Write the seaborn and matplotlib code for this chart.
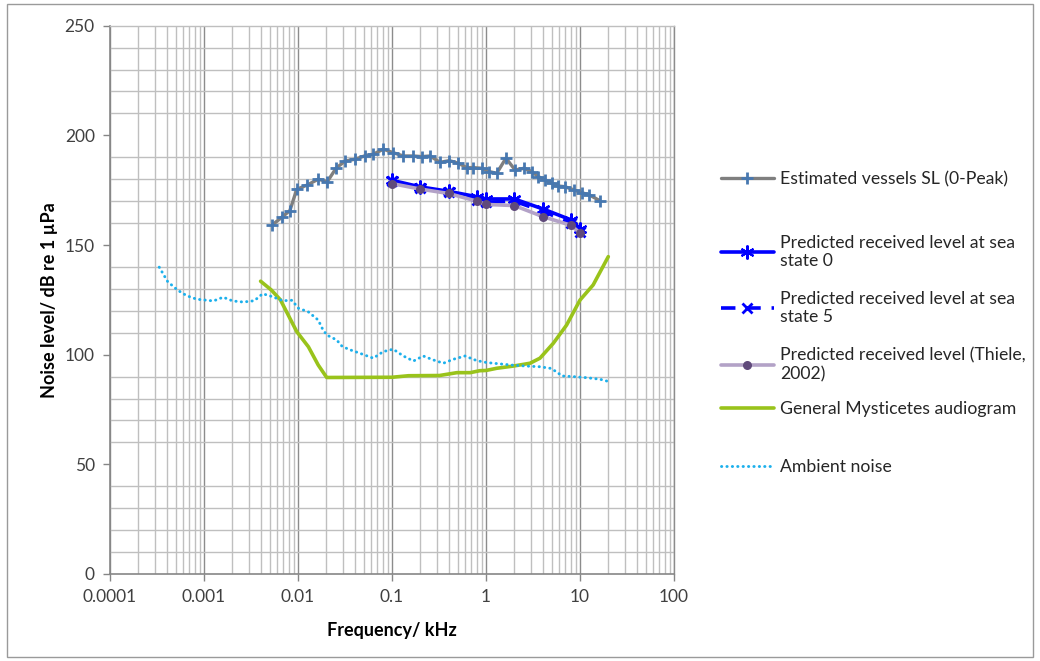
import numpy as np
import pandas as pd
import matplotlib
matplotlib.use("Agg")
import matplotlib.pyplot as plt
from matplotlib.ticker import LogLocator, FixedLocator, NullFormatter, FuncFormatter
from matplotlib.patches import Rectangle
import seaborn as sns

# ---------------- data ----------------
# Estimated vessel source level (0-peak), frequency in kHz
vessel_freq = [0.0053, 0.0067, 0.0082, 0.0097, 0.0126, 0.0164, 0.0205, 0.0254, 0.0316,
               0.0404, 0.0516, 0.0632, 0.0809, 0.103, 0.132, 0.169, 0.207, 0.254, 0.324,
               0.407, 0.508, 0.622, 0.733, 0.90, 1.08, 1.30, 1.63, 2.04, 2.54, 3.06, 3.60,
               4.24, 5.00, 5.88, 6.92, 8.63, 10.4, 12.6, 16.3]
vessel_sl = [159.1, 162.6, 165.7, 175.4, 177.4, 180.0, 178.9, 185.0, 188.3,
             189.1, 190.7, 191.4, 193.7, 192.1, 190.6, 190.6, 190.3, 190.6, 187.7,
             188.5, 187.3, 185.3, 185.3, 185.0, 183.5, 182.7, 189.6, 184.2, 185.0, 183.5, 181.2,
             179.7, 178.2, 176.9, 176.6, 175.1, 173.9, 172.8, 170.2]

# Predicted received levels
rl_freq = [0.1, 0.2, 0.4, 0.8, 1.0, 2.0, 4.0, 8.0, 10.0]
rl_sea0 = [179.5, 176.5, 174.5, 172.0, 171.0, 171.0, 166.5, 161.5, 157.5]
rl_sea5 = [179.0, 176.0, 174.0, 170.5, 169.5, 170.0, 165.5, 160.0, 156.0]
rl_thiele = [178.0, 175.5, 173.5, 170.0, 168.5, 168.0, 163.0, 159.0, 155.5]

# General Mysticetes audiogram
aud_freq = [0.004, 0.0052, 0.0065, 0.0097, 0.0129, 0.0164, 0.0202, 0.1, 0.15, 0.32,
            0.49, 0.68, 0.86, 1.0, 1.3, 1.95, 2.94, 3.75, 5.2, 7.2, 10.0, 13.8, 20.0]
aud_level = [133.5, 129.5, 125.0, 110.5, 103.6, 95.3, 89.6, 89.7, 90.4, 90.5,
             91.8, 91.8, 92.7, 92.8, 93.8, 94.8, 96.1, 98.4, 105.2, 113.5, 124.9, 131.8, 144.7]

# Ambient noise
amb_freq = [0.000334, 0.000411, 0.000525, 0.000654, 0.000836, 0.00126, 0.0016, 0.00202,
            0.00262, 0.00343, 0.00421, 0.00538, 0.00688, 0.00863, 0.0101, 0.0129, 0.0164,
            0.0183, 0.0202, 0.0258, 0.0292, 0.0343, 0.0438, 0.0632, 0.0807, 0.103, 0.132,
            0.169, 0.215, 0.275, 0.352, 0.449, 0.598, 0.796, 1.02, 1.41, 1.95, 2.71, 3.75,
            4.80, 5.65, 6.39, 8.49, 11.8, 16.3, 19.2]
amb_level = [139.9, 133.3, 129.4, 126.9, 125.3, 124.5, 126.2, 124.5,
             124.0, 124.6, 127.8, 126.4, 124.6, 124.8, 121.2, 119.5, 115.8,
             111.6, 109.0, 106.7, 104.0, 102.5, 100.9, 98.4, 101.4, 102.5, 99.4,
             97.1, 99.4, 97.6, 96.1, 97.9, 99.4, 97.3, 96.4, 95.8, 95.2, 94.8, 94.5,
             93.8, 92.2, 90.3, 90.0, 89.5, 88.8, 88.0]

labels = ["Estimated vessels SL (0-Peak)",
          "Predicted received level at sea\nstate 0",
          "Predicted received level at sea\nstate 5",
          "Predicted received level (Thiele,\n2002)",
          "General Mysticetes audiogram",
          "Ambient noise"]

x_ticks = [0.0001, 0.001, 0.01, 0.1, 1, 10, 100]
y_ticks = [0, 50, 100, 150, 200, 250]

# ---------------- style ----------------
sns.set_theme(style="white")
plt.rcParams["font.family"] = ["Lato", "DejaVu Sans"]

GRID_MINOR = "#bfbfbf"
GRID_MAJOR = "#8c8c8c"
AXIS = "#868686"
TEXT = "#404040"

fig = plt.figure(figsize=(10.4, 6.61), dpi=100)
ax = fig.add_axes([110 / 1040, 1 - 574 / 661, (674 - 110) / 1040, (574 - 25.7) / 661])

# outer chart frame
fig.patches.append(Rectangle((7 / 1040, 4 / 661), 1026 / 1040, 653 / 661,
                             transform=fig.transFigure, fill=False,
                             edgecolor="#9a9a9a", linewidth=1.0))

ax.set_xscale("log")
ax.set_xlim(0.0001, 100)
ax.set_ylim(0, 250)

# ---------------- series ----------------
df_vessel = pd.DataFrame({"f": vessel_freq, "L": vessel_sl})
df_rl = pd.DataFrame({"f": rl_freq, "s0": rl_sea0, "s5": rl_sea5, "th": rl_thiele})
df_aud = pd.DataFrame({"f": aud_freq, "L": aud_level})
df_amb = pd.DataFrame({"f": amb_freq, "L": amb_level})

asterisk = (6, 2, 0)

sns.lineplot(data=df_vessel, x="f", y="L", ax=ax, estimator=None, sort=False, legend=False,
             color="#7f7f7f", linewidth=2.4, marker="+", markersize=9,
             markeredgewidth=2.0, markeredgecolor="#4778b0", label=labels[0], zorder=3)
sns.lineplot(data=df_rl, x="f", y="s0", ax=ax, estimator=None, sort=False, legend=False,
             color="#0000ff", linewidth=2.6, marker=asterisk, markersize=10,
             markeredgewidth=1.5, markeredgecolor="#0000ff", label=labels[1], zorder=4)
sns.lineplot(data=df_rl, x="f", y="s5", ax=ax, estimator=None, sort=False, legend=False,
             color="#0000ff", linewidth=2.6, linestyle=(0, (4, 3)), marker="x", markersize=7,
             markeredgewidth=2.0, markeredgecolor="#0000ff", label=labels[2], zorder=4)
sns.lineplot(data=df_rl, x="f", y="th", ax=ax, estimator=None, sort=False, legend=False,
             color="#b3a2c7", linewidth=2.6, marker="o", markersize=6.5,
             markeredgewidth=0, markerfacecolor="#604a7b", label=labels[3], zorder=5)
sns.lineplot(data=df_aud, x="f", y="L", ax=ax, estimator=None, sort=False, legend=False,
             color="#99c31b", linewidth=2.6, label=labels[4], zorder=3)
sns.lineplot(data=df_amb, x="f", y="L", ax=ax, estimator=None, sort=False, legend=False,
             color="#1cb0ec", linewidth=2.1, linestyle=(0, (0.1, 1.75)),
             dash_capstyle="round", label=labels[5], zorder=3)

# ---------------- axes, grid ----------------
ax.xaxis.set_major_locator(FixedLocator(x_ticks))
ax.xaxis.set_minor_locator(LogLocator(base=10, subs=np.arange(2, 10), numticks=20))
ax.xaxis.set_major_formatter(FuncFormatter(lambda v, p: f"{v:g}"))
ax.xaxis.set_minor_formatter(NullFormatter())
ax.set_yticks(y_ticks)
ax.yaxis.set_minor_locator(FixedLocator(np.arange(0, 251, 10)))

ax.grid(False)
ax.grid(which="major", axis="x", color=GRID_MAJOR, linewidth=1.0)
ax.grid(which="minor", axis="x", color=GRID_MINOR, linewidth=1.0)
ax.grid(which="minor", axis="y", color=GRID_MINOR, linewidth=1.0)
ax.set_axisbelow(True)

ax.tick_params(which="major", direction="out", length=5, width=1.0, color=AXIS,
               labelsize=12.5, labelcolor=TEXT, pad=6, bottom=True, left=True)
ax.tick_params(which="minor", length=0)

for side in ("left", "bottom"):
    ax.spines[side].set_color(AXIS)
    ax.spines[side].set_linewidth(1.2)
ax.spines["top"].set_color(GRID_MINOR)
ax.spines["top"].set_linewidth(1.0)
ax.spines["right"].set_color(GRID_MAJOR)
ax.spines["right"].set_linewidth(1.0)

ax.set_xlabel("Frequency/ kHz", fontsize=13, fontweight="bold", color="black", labelpad=12)
ax.set_ylabel("Noise level/ dB re 1 µPa", fontsize=13, fontweight="bold", color="black",
              labelpad=5)

# ---------------- legend ----------------
handles, _ = ax.get_legend_handles_labels()
if ax.get_legend() is not None:
    ax.get_legend().remove()
legend_y = [179, 252, 308, 365, 409, 467]
for h, lab, yc in zip(handles, labels, legend_y):
    fig.legend([h], [lab], loc="center left",
               bbox_to_anchor=(721 / 1040, 1 - yc / 661),
               frameon=False, fontsize=12.7, labelcolor="#262626",
               handlelength=3.0, handletextpad=0.35, borderpad=0, borderaxespad=0,
               markerscale=1.0)

fig.savefig("out.png", dpi=100, facecolor="white")
